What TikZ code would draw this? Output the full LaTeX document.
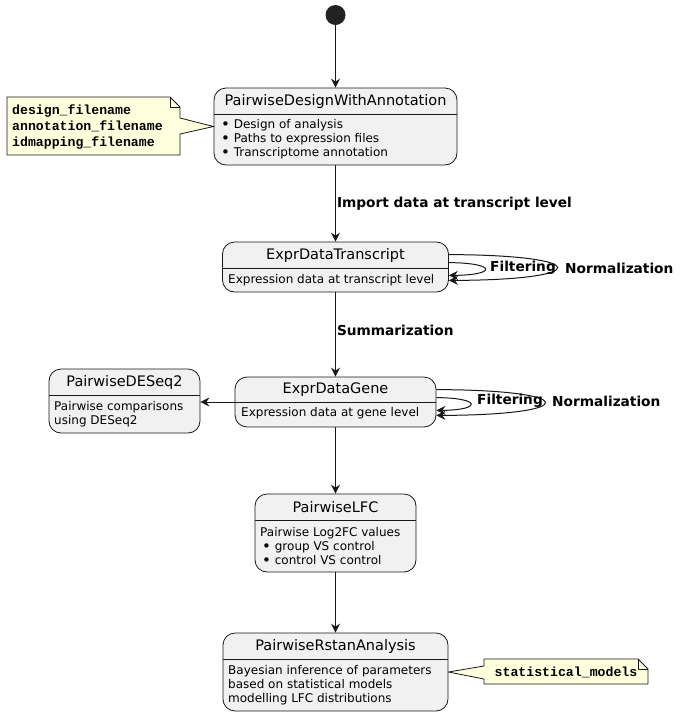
\documentclass[tikz,border=0pt]{standalone}
\usepackage{fontspec}
\setmainfont{DejaVu Sans}
\newfontfamily\notefont{Liberation Mono}
\usetikzlibrary{arrows.meta}
\definecolor{statefill}{HTML}{F1F1F1}
\definecolor{lineclr}{HTML}{181818}
\definecolor{notefill}{HTML}{FEFFDD}
\definecolor{startfill}{HTML}{222222}
\newcommand{\bul}{\raisebox{-1.2pt}{\fontsize{15}{14.5}\selectfont•}}
\tikzset{
  state/.style={draw=lineclr,fill=statefill,rounded corners=12pt,inner sep=0pt,line width=0.8pt},
  title/.style={font=\fontsize{14.5}{16}\selectfont,inner sep=0pt},
  body/.style={font=\fontsize{12}{14.3}\selectfont,align=left,anchor=west,inner sep=0pt},
  lbl/.style={font=\fontsize{13.7}{15}\selectfont\bfseries,inner sep=0pt},
  arr/.style={draw=lineclr,line width=1pt,-{Stealth[length=9pt,width=9pt,inset=3pt]}},
  note/.style={draw=lineclr,fill=notefill,line width=0.8pt,line join=round},
  notetext/.style={font=\notefont\bfseries\fontsize{13.2}{16}\selectfont,align=left,inner sep=0pt}
}
\begin{document}
\begin{tikzpicture}[x=1pt,y=-1pt]
    \useasboundingbox (0,0) rectangle (683,716);
    \node[circle,fill=startfill,minimum size=20pt,inner sep=0pt] (start) at (335.5,15) {};

    % states
    \node[state,minimum width=243pt,minimum height=77pt] (design) at (335.5,126.5) {};
    \node[state,minimum width=226pt,minimum height=50pt] (trans)  at (335.5,267) {};
    \node[state,minimum width=201pt,minimum height=50pt] (gene)   at (335.5,402) {};
    \node[state,minimum width=151pt,minimum height=64pt] (deseq)  at (124.5,401) {};
    \node[state,minimum width=161pt,minimum height=78pt] (lfc)    at (335.5,533) {};
    \node[state,minimum width=225pt,minimum height=78pt] (rstan)  at (335.5,672) {};

    \begin{scope}[draw=lineclr,line width=0.8pt]
        \draw (214,114) -- (457,114);
        \draw (222,268) -- (448,268);
        \draw (235,402) -- (436,402);
        \draw (49,395) -- (200,395);
        \draw (255,520) -- (416,520);
        \draw (223,659) -- (448,659);
    \end{scope}

    \node[title] (designT) at (335.5,101) {PairwiseDesignWithAnnotation};
    \node[title] (transT)  at (335.5,255.5) {ExprDataTranscript};
    \node[title] (geneT)   at (335.5,389.5) {ExprDataGene};
    \node[title] (deseqT)  at (124.5,382.5) {PairwiseDESeq2};
    \node[title] (lfcT)    at (335.5,507) {PairwiseLFC};
    \node[title] (rstanT)  at (335.5,646) {PairwiseRstanAnalysis};

    \node[body] (designB) at (221,139) {\bul\ Design of analysis\\\bul\ Paths to expression files\\\bul\ Transcriptome annotation};
    \node[body] (transB)  at (228,280) {Expression data at transcript level};
    \node[body] (geneB)   at (241,413) {Expression data at gene level};
    \node[body] (deseqB)  at (54,414)  {Pairwise comparisons\\using DESeq2};
    \node[body] (lfcB)    at (260,546.5) {Pairwise Log2FC values\\\hspace{2pt}\bul\ group VS control\\\hspace{2pt}\bul\ control VS control};
    \node[body] (rstanB)  at (228,685) {Bayesian inference of parameters\\based on statistical models\\modelling LFC distributions};

    % notes
    \draw[note] (7,97) -- (170,97) -- (180,107) -- (180,118) -- (design.west) -- (180,134) -- (180,155) -- (7,155) -- cycle;
    \draw[note,fill=none] (170,97) -- (170,107) -- (180,107);
    \node[notetext,anchor=west] (files) at (12,127) {design\_filename\\annotation\_filename\\idmapping\_filename};

    \draw[note] (484,659) -- (638,659) -- (648,669) -- (648,684) -- (484,684) -- (484,679) -- (rstan.east) -- (484,666) -- cycle;
    \draw[note,fill=none] (638,659) -- (638,669) -- (648,669);
    \node[notetext] (models) at (566,672) {statistical\_models};

    % transitions
    \draw[arr] (start) -- (design);
    \draw[arr] (design) -- node[lbl,right,xshift=1pt] {Import data at transcript level} (trans);
    \draw[arr] (trans) -- node[lbl,right,xshift=1pt,pos=0.45] {Summarization} (gene);
    \draw[arr] (gene.west) -- (deseq.east |- gene.west);
    \draw[arr] (gene) -- (lfc);
    \draw[arr] (lfc) -- (rstan);

    % self loops
    \draw[arr] ([yshift=-13pt]trans.north east) .. controls (593,255) and (593,280) .. ([yshift=12pt]trans.south east);
    \draw[arr] ([yshift=-21pt]trans.north east) .. controls (497,263) and (497,275) .. ([yshift=17pt]trans.south east);
    \node[lbl,anchor=west] (filtT) at (490,268) {Filtering};
    \node[lbl,anchor=west] (normT) at (565,268) {Normalization};

    \draw[arr] ([yshift=-13pt]gene.north east) .. controls (581,390) and (581,415) .. ([yshift=12pt]gene.south east);
    \draw[arr] ([yshift=-21pt]gene.north east) .. controls (482,398) and (482,410) .. ([yshift=17pt]gene.south east);
    \node[lbl,anchor=west] (filtG) at (477,401) {Filtering};
    \node[lbl,anchor=west] (normG) at (552,401) {Normalization};
\end{tikzpicture}
\end{document}
